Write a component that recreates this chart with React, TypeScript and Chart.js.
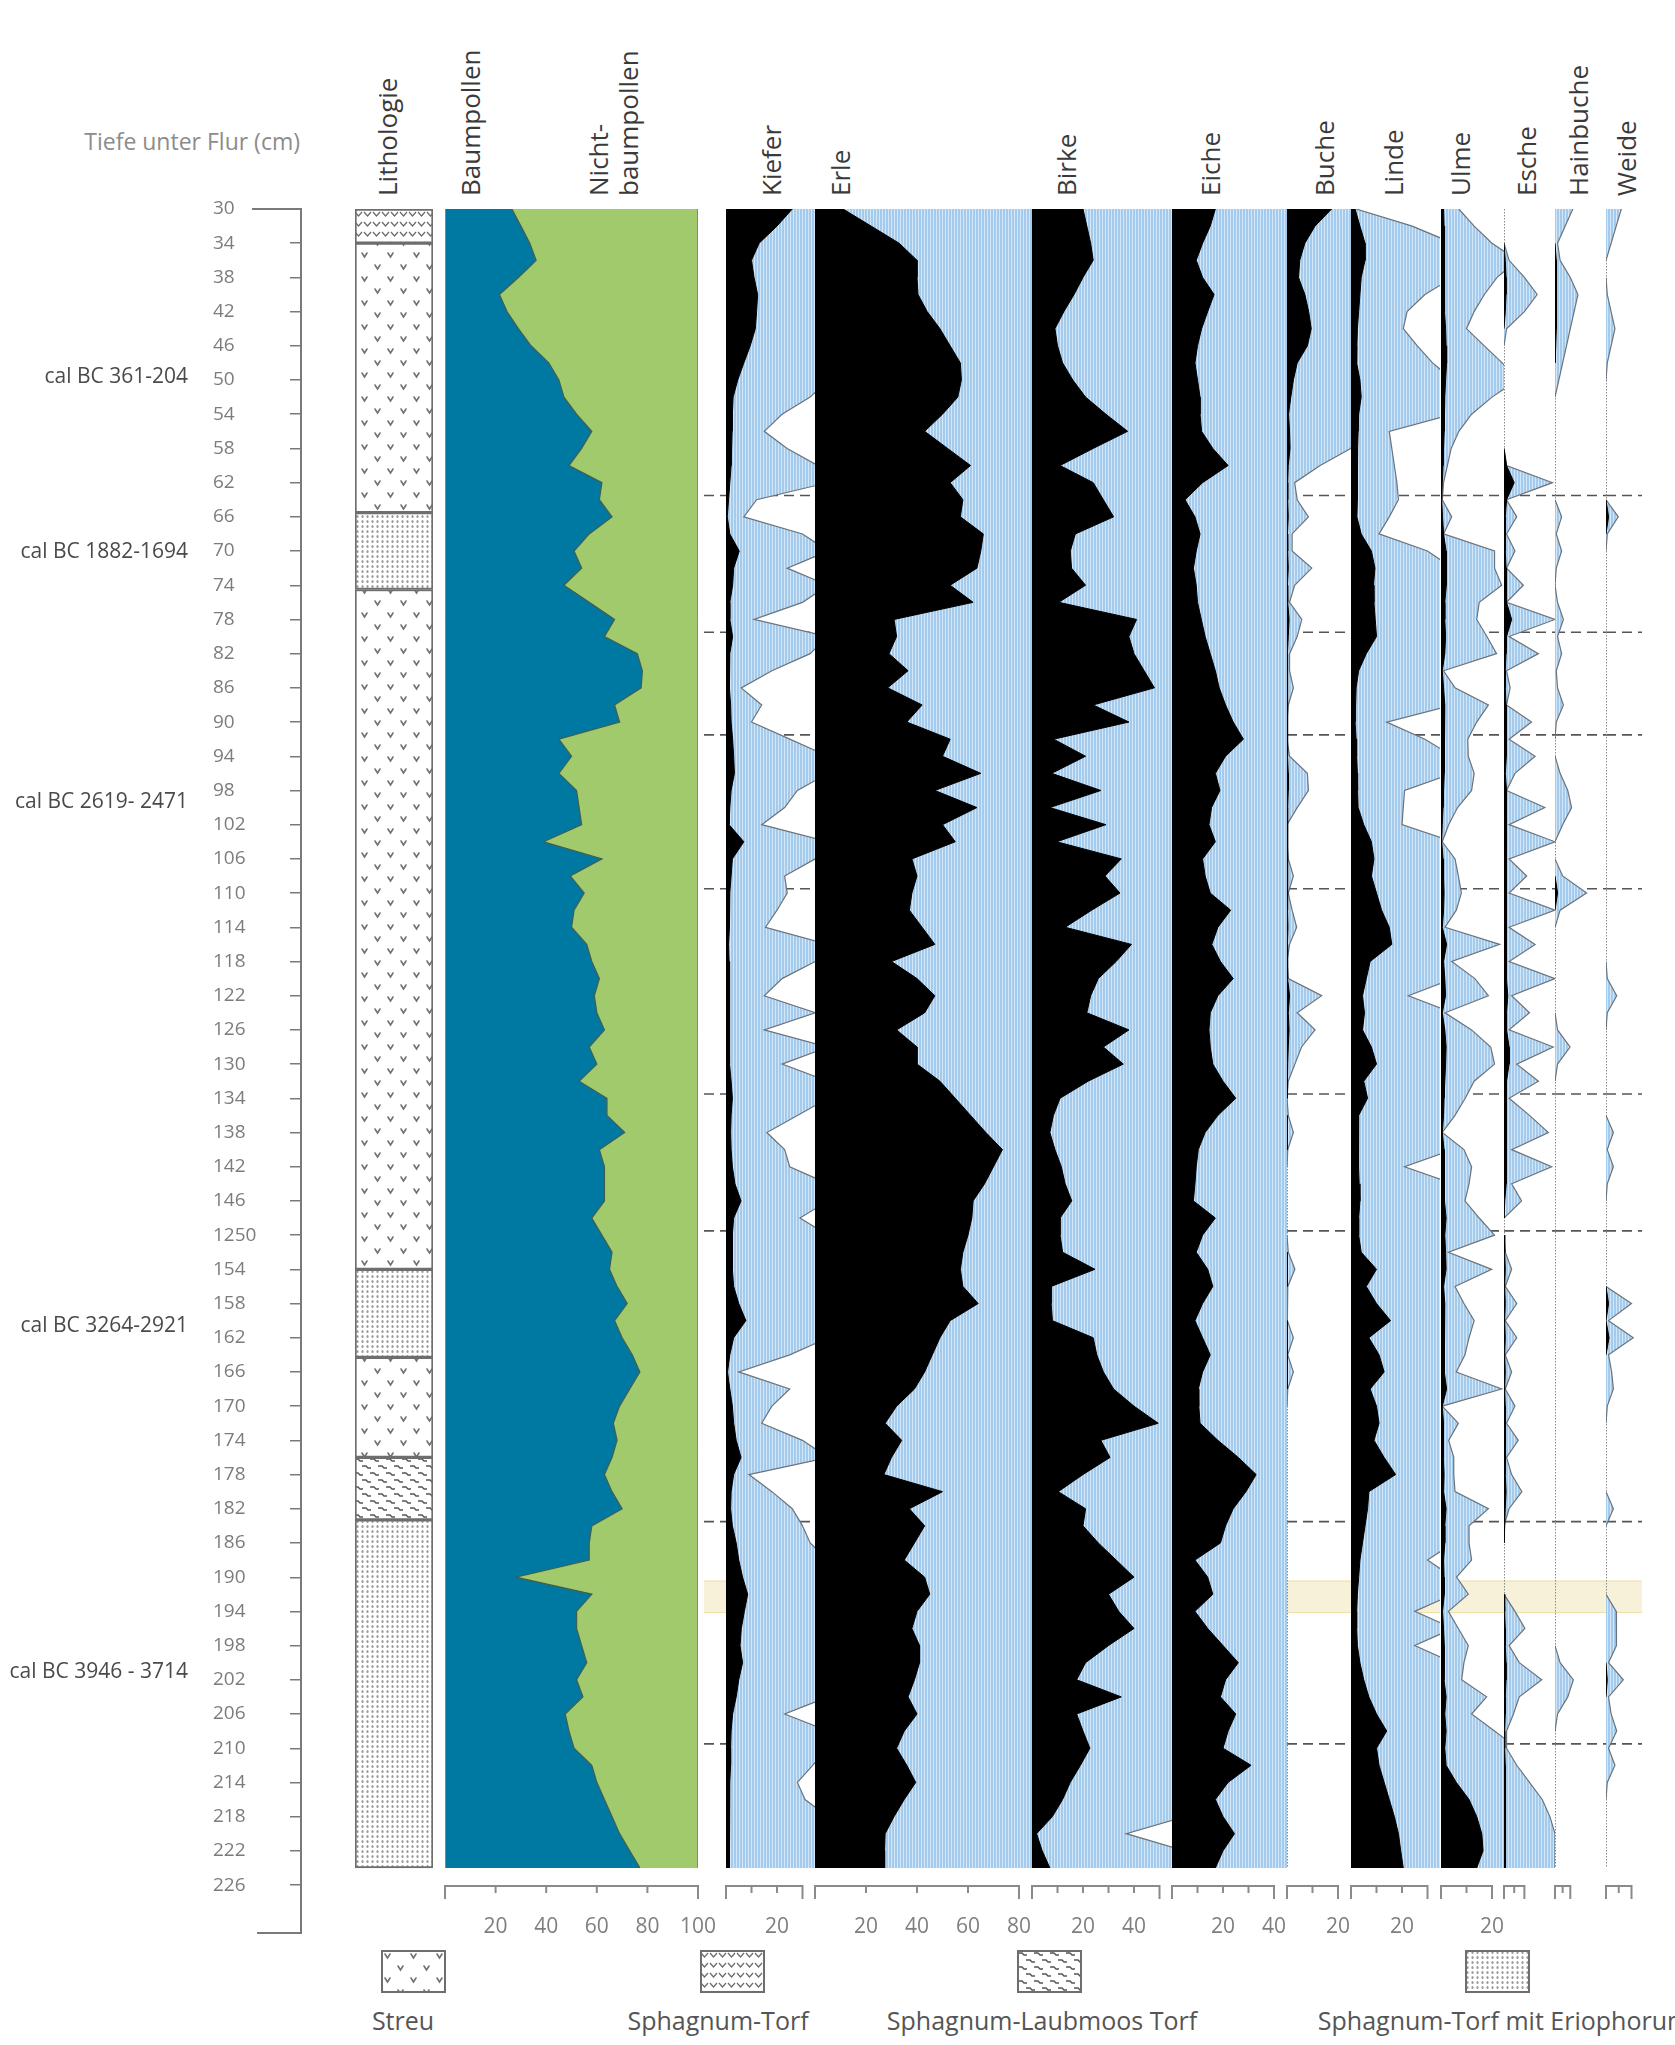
import React, { useEffect, useRef } from 'react';
import { Chart, registerables } from 'chart.js';

Chart.register(...registerables);

const FONT = '"Open Sans", "Noto Sans", "DejaVu Sans", sans-serif';

// ======================= DATA =======================
const depths = [
  30, 32, 34, 36, 38, 40, 42, 44, 46, 48,
  50, 52, 54, 56, 58, 60, 62, 64, 66, 68,
  70, 72, 74, 76, 78, 80, 82, 84, 86, 88,
  90, 92, 94, 96, 98, 100, 102, 104, 106, 108,
  110, 112, 114, 116, 118, 120, 122, 124, 126, 128,
  130, 132, 134, 136, 138, 140, 142, 144, 146, 148,
  150, 152, 154, 156, 158, 160, 162, 164, 166, 168,
  170, 172, 174, 176, 178, 180, 182, 184, 186, 188,
  190, 192, 194, 196, 198, 200, 202, 204, 206, 208,
  210, 212, 214, 216, 218, 220, 222, 224,
];

const depthTickValues = [
  30, 34, 38, 42, 46, 50, 54, 58, 62, 66, 70, 74, 78, 82, 86, 90, 94, 98, 102, 106,
  110, 114, 118, 122, 126, 130, 134, 138, 142, 146, 150, 154, 158, 162, 166, 170, 174, 178, 182, 186,
  190, 194, 198, 202, 206, 210, 214, 218, 222, 226,
];
const depthTickLabels = [
  '30', '34', '38', '42', '46', '50', '54', '58', '62', '66', '70', '74', '78', '82', '86', '90', '94', '98', '102', '106',
  '110', '114', '118', '122', '126', '130', '134', '138', '142', '146', '1250', '154', '158', '162', '166', '170', '174', '178', '182', '186',
  '190', '194', '198', '202', '206', '210', '214', '218', '222', '226',
];

const calDates = ['cal BC 361-204', 'cal BC 1882-1694', 'cal BC 2619- 2471', 'cal BC 3264-2921', 'cal BC 3946 - 3714'];
const calDateDepths = [49.7, 70.1, 99.4, 160.6, 201.1];

const zoneBoundaries = [63.5, 79.5, 91.5, 109.5, 133.5, 149.5, 183.5, 209.5];
const highlightBand = [190.4, 194.2];

const lithoTop = [30, 34, 65.5, 74.5, 154, 164.3, 176, 183.3];
const lithoBottom = [34, 65.5, 74.5, 154, 164.3, 176, 183.3, 224];
const lithoType = ['sphagnum', 'streu', 'eriophorum', 'streu', 'eriophorum', 'streu', 'laubmoos', 'eriophorum'];

const legendLabels = ['Streu', 'Sphagnum-Torf', 'Sphagnum-Laubmoos Torf', 'Sphagnum-Torf mit Eriophorum'];
const legendKinds = ['streu', 'sphagnum', 'laubmoos', 'eriophorum'];

const baumpollen = [
  26.4, 30, 33.5, 36, 29, 21.5, 24.5, 29, 34, 41,
  45, 47, 52, 58, 54, 49, 62, 61, 66, 57,
  51, 54, 47, 57, 67, 63, 76, 78, 77.5, 67,
  69, 45, 50, 45, 52, 53, 54, 39, 62, 49.5,
  55, 51, 50, 56, 58, 61, 59, 60, 63, 57,
  60, 53, 64, 64, 71, 61, 63, 63, 63, 58,
  62, 66, 65, 68, 72, 67, 70, 74, 77, 73,
  69, 66.5, 68, 66, 63, 66, 70, 58, 57, 57,
  28, 58, 52, 52, 54, 56, 52, 54.5, 47.5, 49,
  51, 58, 60, 63, 66, 69, 73, 77,
];

const kiefer = [
  26, 20, 13, 10, 11, 12.4, 12, 11.5, 9.5, 7,
  4.6, 2.8, 2.5, 2.4, 2.2, 2, 1.5, 1, 0.5, 1.5,
  5.2, 3, 2.6, 1.5, 1.5, 2.6, 1.5, 1.2, 1.5, 1.8,
  2, 2.6, 3, 3.3, 2, 1.5, 1.2, 7, 2.5, 2,
  1.5, 1.5, 1.2, 1, 1.2, 1.5, 1.2, 1.5, 1.2, 1.5,
  1.5, 2, 2.5, 2, 1.8, 2, 2.5, 3.5, 5.9, 3,
  2.5, 2.5, 2.5, 3, 5, 7.8, 3, 1.5, 0.6, 1.5,
  2.5, 3, 4, 5.9, 3, 2, 1.8, 2.5, 4, 5,
  6.5, 8.5, 7.2, 6, 5.5, 6.5, 5, 4, 2.6, 2,
  1.8, 1.8, 1.5, 1.5, 1.3, 1.3, 1.3, 1.3,
];
const kieferExag = [
  40, 40, 40, 40, 40, 40, 40, 40, 40, 40,
  40, 33, 22, 15, 24, 36, 40, 12, 7, 30,
  40, 24, 40, 30, 11, 40, 33, 18, 6, 14,
  10, 25, 40, 40, 28, 23, 14, 40, 35, 23,
  24, 20, 15.5, 40, 35, 22, 15, 35, 15, 40,
  22, 40, 40, 28, 16, 23, 25, 40, 40, 29,
  40, 40, 40, 40, 40, 40, 40, 25, 5, 25,
  18, 14, 30, 40, 9, 18, 26, 30, 33, 40,
  40, 40, 40, 40, 40, 40, 40, 40, 23, 40,
  40, 34, 28, 31, 40, 40, 40, 40,
];

const erle = [
  11, 22, 33, 40, 40, 40.4, 44, 49, 53, 57,
  57.4, 56, 50, 43, 52, 61, 53, 58, 57, 66,
  65, 63.5, 53, 62, 31, 32, 29, 36.5, 28.5, 42,
  36, 53, 50, 65, 47, 63.5, 50, 55, 38, 40,
  38, 37, 42, 47, 30, 40, 47, 43, 32, 40,
  40, 49, 55, 61, 67, 73.5, 70, 66.5, 62, 61.5,
  60, 58, 57, 58, 64, 53, 49, 46, 43, 39,
  32, 27.5, 34, 30, 27, 50, 37, 43, 39, 35,
  43, 45, 40, 38, 41, 41, 39, 36.5, 40, 35,
  32, 36, 39.5, 35, 31, 27.5, 27.3, 27.3,
];
const erleExag = [
  100, 100, 100, 100, 100, 100, 100, 100, 100, 100,
  100, 100, 100, 100, 100, 100, 100, 100, 100, 100,
  100, 100, 100, 100, 100, 100, 100, 100, 100, 100,
  100, 100, 100, 100, 100, 100, 100, 100, 100, 100,
  100, 100, 100, 100, 100, 100, 100, 100, 100, 100,
  100, 100, 100, 100, 100, 100, 100, 100, 100, 100,
  100, 100, 100, 100, 100, 100, 100, 100, 100, 100,
  100, 100, 100, 100, 100, 100, 100, 100, 100, 100,
  100, 100, 100, 100, 100, 100, 100, 100, 100, 100,
  100, 100, 100, 100, 100, 100, 100, 100,
];

const birke = [
  20, 21.5, 23, 24, 20, 16.5, 12.5, 9, 10, 12,
  16, 21, 29, 37.5, 24, 11, 24, 28, 32, 17,
  15, 15.5, 21, 10.5, 41, 38, 40, 44, 48, 24,
  38, 8.5, 21, 7.7, 27, 7, 29, 9.7, 35, 28.6,
  34.5, 23.4, 13, 39, 33, 26, 23, 21.5, 38, 28,
  35.8, 22, 11, 8.4, 7, 9, 11.5, 13, 15.6, 11,
  11, 12, 24.7, 7.5, 7.5, 8, 24, 25.4, 28, 32,
  40, 49.5, 27, 30.6, 20, 10.3, 21, 20, 26, 33,
  40, 30, 34, 40, 30, 21, 17.5, 35, 17.5, 20,
  22.7, 19, 15, 12, 8, 1.8, 4, 7,
];
const birkeExag = [
  60, 60, 60, 60, 60, 60, 60, 60, 60, 60,
  60, 60, 60, 60, 60, 60, 60, 60, 60, 60,
  60, 60, 60, 60, 60, 60, 60, 60, 60, 60,
  60, 60, 60, 60, 60, 60, 60, 60, 60, 60,
  60, 60, 60, 60, 60, 60, 60, 60, 60, 60,
  60, 60, 60, 60, 60, 60, 60, 60, 60, 60,
  60, 60, 60, 60, 60, 60, 60, 60, 60, 60,
  60, 60, 60, 60, 60, 60, 60, 60, 60, 60,
  60, 60, 60, 60, 60, 60, 60, 60, 60, 60,
  60, 60, 60, 60, 60, 37, 60, 60,
];

const eiche = [
  17, 15, 12, 9.5, 12, 16.5, 14, 11.6, 10, 9,
  10, 11, 11, 11.6, 16, 22, 12, 5.1, 9, 11,
  9.5, 8.4, 9.5, 10, 11.5, 13, 15, 17, 18.5, 21,
  24, 28, 21, 17, 18.8, 15.5, 14.5, 17, 12, 13,
  15, 23, 18, 15.6, 19, 24, 18, 15, 14.5, 15,
  16, 20, 25, 18, 13, 10.3, 9.5, 9, 8.4, 17,
  12, 9.5, 14, 16, 12, 9, 12, 15, 12, 10.3,
  10.5, 11, 18, 26, 33, 29, 24, 21, 19, 9,
  14, 16, 9, 14, 20, 26, 21, 19, 25, 22,
  20, 31, 22, 17, 20, 24.5, 20, 17,
];
const eicheExag = [
  60, 60, 60, 60, 60, 60, 60, 60, 60, 60,
  60, 60, 60, 60, 60, 60, 60, 60, 60, 60,
  60, 60, 60, 60, 60, 60, 60, 60, 60, 60,
  60, 60, 60, 60, 60, 60, 60, 60, 60, 60,
  60, 60, 60, 60, 60, 60, 60, 60, 60, 60,
  60, 60, 60, 60, 60, 60, 60, 60, 60, 60,
  60, 60, 60, 60, 60, 60, 60, 60, 60, 60,
  60, 60, 60, 60, 60, 60, 60, 60, 60, 60,
  60, 60, 60, 60, 60, 60, 60, 60, 60, 60,
  60, 60, 60, 60, 60, 60, 60, 60,
];

const buche = [
  17.5, 11, 7, 5, 4.5, 7, 8.5, 9.5, 8, 4,
  2.5, 1.5, 0.6, 1, 1.2, 0.5, 0.3, 0.3, 0.5, 0.2,
  0.3, 0.5, 0.2, 0.3, 0.8, 0.5, 0.2, 0.2, 0.3, 0.2,
  0.2, 0.2, 0.3, 0.5, 0.5, 0.3, 0.2, 0.2, 0.2, 0.3,
  0.2, 0.3, 0.4, 0.2, 0.2, 0.3, 1, 0.5, 0.8, 0.5,
  0.3, 0.2, 0, 0, 0.2, 0, 0, 0, 0, 0,
  0, 0, 0.2, 0, 0, 0, 0.2, 0, 0.2, 0,
  0, 0, 0, 0, 0, 0, 0, 0, 0, 0,
  0, 0, 0, 0, 0, 0, 0, 0, 0, 0,
  0, 0, 0, 0, 0, 0, 0, 0,
];
const bucheExag = [
  30, 30, 30, 30, 30, 30, 30, 30, 30, 30,
  30, 30, 30, 30, 25, 13, 3, 4, 8.4, 2,
  2, 9.7, 3, 1, 5.8, 4, 1, 1, 2.5, 0.5,
  0, 0, 1, 8, 8.4, 4, 0, 0, 0.5, 2.5,
  0.5, 2, 3.8, 1, 0, 0.5, 13.6, 4, 11, 5.7,
  3.1, 0.5, 0, 0.5, 2.5, 0.3, 0, 0, 0, 0,
  0, 0.5, 3.1, 0.3, 0, 0.3, 2.5, 0.3, 2.5, 0.3,
  0, 0, 0, 0, 0, 0, 0, 0, 0, 0,
  0, 0, 0, 0, 0, 0, 0, 0, 0, 0,
  0, 0, 0, 0, 0, 0, 0, 0,
];

const linde = [
  1.6, 3.5, 5.5, 5.5, 4, 3.5, 3, 2.5, 2.3, 2.2,
  3.5, 4, 3, 2.8, 2.6, 2.6, 2.5, 2.4, 2.3, 4,
  8, 9.4, 8.8, 9, 9.5, 10, 6, 3, 2, 1.8,
  1.6, 2, 2.2, 2.5, 2.6, 2.8, 5, 8, 9, 8,
  10, 12, 15, 16, 7.5, 6, 4.5, 5.3, 4.5, 8,
  10, 5, 6.5, 3, 3, 2.8, 3, 3.2, 3.5, 3,
  3, 4, 10, 6, 10, 15.5, 7, 11, 13, 7.5,
  10, 11, 9, 13, 17.5, 7, 6.5, 5.5, 4.5, 3.5,
  3, 2.5, 2.2, 2.2, 2.5, 3.5, 5, 7, 10, 14,
  10, 11, 13, 15, 17, 18.6, 19.5, 20.5,
];
const lindeExag = [
  2, 24, 40, 40, 40, 29, 22, 20.5, 26, 32,
  40, 40, 40, 15, 16, 17, 18, 18.6, 15, 11,
  30, 40, 40, 40, 40, 40, 40, 40, 40, 40,
  14, 29, 40, 40, 21, 20.5, 20, 40, 40, 40,
  40, 40, 40, 40, 40, 40, 22.5, 40, 40, 40,
  40, 40, 40, 40, 40, 40, 21, 40, 40, 40,
  40, 40, 40, 40, 40, 40, 40, 40, 40, 40,
  40, 40, 40, 40, 40, 40, 40, 40, 40, 30,
  40, 40, 25, 40, 25, 40, 40, 40, 40, 40,
  40, 40, 40, 40, 40, 40, 40, 40,
];

const ulme = [
  1, 1.2, 1.5, 1.3, 1.2, 1.5, 1.5, 1.8, 2, 2.2,
  1.8, 1.5, 1.3, 1.2, 1, 0.8, 0.5, 0.3, 0.6, 1,
  2, 2.2, 2, 1.5, 1.5, 1.8, 1.5, 0.5, 1, 1.5,
  1.3, 1.2, 1.2, 1.4, 1, 0.8, 0.5, 0.3, 0.8, 1,
  1.2, 1, 0.5, 2.2, 1, 1.5, 1.8, 0.5, 1.5, 2,
  1.8, 1.5, 1.2, 1, 0.5, 1.2, 1.5, 1.4, 1.2, 2,
  1.5, 1.8, 2, 1, 1.5, 1.5, 1.3, 1.2, 1.2, 2.2,
  0.5, 1, 0.8, 1, 1.2, 1, 2, 1.5, 1.5, 1,
  1.2, 1.3, 0.6, 1, 1.3, 1.2, 1.2, 2, 1.5, 2,
  1.5, 2, 6, 11, 14, 16, 16.5, 14,
];
const ulmeExag = [
  7, 13, 20, 30, 22, 17, 13, 10, 17, 24,
  30, 20, 12, 7, 4, 2.5, 1, 0.5, 4.2, 1,
  21, 21, 23.8, 15, 14, 18, 21.8, 1, 5.5, 18.6,
  14, 10.5, 10.7, 13, 12, 6.5, 3, 0.5, 5.5, 6.8,
  8, 6, 1.6, 23, 4.2, 13.3, 18.6, 1.6, 12, 19.5,
  21, 13, 9.5, 5.5, 0.5, 9, 12, 11, 9.4, 15,
  21, 2.9, 19.9, 5.5, 9, 13, 11, 9.4, 6, 23.8,
  0.5, 6.8, 3, 5, 5, 5.5, 18.6, 11, 11, 12,
  6.1, 10.7, 2.9, 6.8, 10.7, 9, 8.1, 17.9, 12, 21,
  30, 30, 30, 30, 30, 30, 30, 30,
];

const esche = [
  0, 0, 0, 0.5, 0.8, 0.8, 0.5, 0, 0, 0,
  0, 0, 0, 0, 0, 1, 4, 1, 0.5, 0.5,
  0.5, 0.8, 1, 1, 3, 1, 0.8, 0.5, 0.5, 0.8,
  1, 1, 0.8, 0.5, 1, 1, 0.8, 1, 1, 0.8,
  1, 1, 0.8, 1, 1, 1, 1.5, 1, 1, 2,
  2, 1, 0.8, 0.8, 1, 0.8, 1, 0.8, 0.3, 0,
  0, 0.3, 0.5, 0.3, 0.5, 0.3, 0.5, 0.3, 0.5, 0.3,
  0.5, 0.5, 0.5, 0.5, 0.5, 0.8, 0.5, 0.3, 0, 0,
  0, 0, 0.3, 0.5, 0.5, 0.8, 0.8, 0.5, 0.5, 0.3,
  0.3, 0.5, 0.5, 0.5, 0.5, 0.5, 0.5, 0.5,
];
const escheExag = [
  0, 0, 0, 2, 8, 13, 8, 1, 0, 0,
  0, 0, 0, 0, 0, 1, 19, 1, 5, 1,
  4.3, 1, 7.6, 1, 20, 2, 13.5, 1, 2.4, 1,
  10.8, 2, 12.2, 4.3, 1, 16, 2, 20, 2, 8.9,
  2, 20, 2, 12.2, 2, 20, 3, 10, 2, 19.3,
  5, 13.5, 2, 10, 17.4, 3, 18.7, 3, 6.9, 0,
  0, 0.5, 3, 0.5, 5, 0.5, 5, 0.5, 3, 0.5,
  4.3, 1, 5.6, 1, 3, 7, 2, 0, 0, 0,
  0, 0, 4.3, 8.2, 2, 6, 14.8, 6, 3.7, 1,
  1, 5, 10, 15, 18, 20, 20, 20,
];

const hainbuche = [
  0, 0, 0, 0.5, 0.5, 0.6, 0.5, 0.5, 0.3, 0,
  0, 0, 0, 0, 0, 0, 0, 0, 0, 0,
  0, 0, 0, 0, 0, 0, 0, 0, 0, 0,
  0, 0, 0, 0, 0, 0, 0, 0, 0, 0,
  1, 0, 0, 0, 0, 0, 0, 0, 0, 0,
  0, 0, 0, 0, 0, 0, 0, 0, 0, 0,
  0, 0, 0, 0, 0, 0, 0, 0, 0, 0,
  0, 0, 0, 0, 0, 0, 0, 0, 0, 0,
  0, 0, 0, 0, 0, 0, 0, 0, 0, 0,
  0, 0, 0, 0, 0, 0, 0, 0,
];
const hainbucheExag = [
  7, 4, 1, 2, 6, 9, 7.5, 6, 4.5, 3,
  1.5, 0, 0, 0, 0, 0, 0, 0, 2.6, 0.5,
  2.6, 0.5, 0, 1, 3.3, 1, 2.6, 0.5, 1, 3.3,
  0.5, 0, 0, 2, 5, 6.5, 3, 0, 0, 3,
  12.4, 2, 0, 0, 0, 0, 0, 0, 1, 5.9,
  1, 0, 0, 0, 0, 0, 0, 0, 0, 0,
  0, 0, 0, 0, 0, 0, 0, 0, 0, 0,
  0, 0, 0, 0, 0, 0, 0, 0, 0, 0,
  0, 0, 0, 0, 0, 2, 7.2, 5, 1, 0,
  0, 0, 0, 0, 0, 0, 0, 0,
];

const weide = [
  0, 0, 0, 0, 0, 0, 0, 0, 0, 0,
  0, 0, 0, 0, 0, 0, 0, 0, 1, 0,
  0, 0, 0, 0, 0, 0, 0, 0, 0, 0,
  0, 0, 0, 0, 0, 0, 0, 0, 0, 0,
  0, 0, 0, 0, 0, 0, 0, 0, 0, 0,
  0, 0, 0, 0, 0, 0, 0, 0, 0, 0,
  0, 0, 0, 0, 1, 0, 1.2, 0, 0, 0,
  0, 0, 0, 0, 0, 0, 0, 0, 0, 0,
  0, 0, 0, 0, 0, 0, 0.5, 0, 0, 0,
  0, 0, 0, 0, 0, 0, 0, 0,
];
const weideExag = [
  6, 4, 2, 0, 0, 0.5, 2, 3.5, 2, 0.5,
  0, 0, 0, 0, 0, 0, 0, 0, 4.8, 0.5,
  0, 0, 0, 0, 0, 0, 0, 0, 0, 0,
  0, 0, 0, 0, 0, 0, 0, 0, 0, 0,
  0, 0, 0, 0, 0, 0.5, 4.2, 0.5, 0, 0,
  0, 0, 0, 0, 2.9, 0.5, 2.9, 0.5, 0, 0,
  0, 0, 0, 0, 10, 1, 10.7, 1, 2.2, 2.9,
  0.5, 0, 0, 0, 0, 0, 2.9, 0, 0, 0,
  0, 0, 4, 4.2, 4, 1, 6.8, 1, 2, 4.2,
  1, 3.5, 0.5, 0, 0, 0, 0, 0,
];

const bpTicks = [0, 20, 40, 60, 80, 100];
const bpTickLabels = ['', '20', '40', '60', '80', '100'];
const kieferTicks = [0, 10, 20, 30];
const kieferTickLabels = ['', '', '20', ''];
const erleTicks = [0, 20, 40, 60, 80];
const erleTickLabels = ['', '20', '40', '60', '80'];
const birkeTicks = [0, 10, 20, 30, 40, 50];
const birkeTickLabels = ['', '', '20', '', '40', ''];
const eicheTicks = [0, 10, 20, 30, 40];
const eicheTickLabels = ['', '', '20', '', '40'];
const bucheTicks = [0, 10, 20];
const bucheTickLabels = ['', '', '20'];
const lindeTicks = [0, 10, 20, 30];
const lindeTickLabels = ['', '', '20', ''];
const ulmeTicks = [0, 10, 20];
const ulmeTickLabels = ['', '', '20'];
const escheTicks = [0, 4, 8];
const escheTickLabels = ['', '', ''];
const hainbucheTicks = [0, 3, 6];
const hainbucheTickLabels = ['', '', ''];
const weideTicks = [0, 5, 10];
const weideTickLabels = ['', '', ''];

// ======================= LAYOUT =======================
const DEPTH_MIN = 30;
const DEPTH_MAX = 226;
const AREA_TOP = 209;
const AREA_BOTTOM = 1885;
const PAD_TOP = 20;
const AXIS_H = 60;
const PAD_X = 64;
const PX_PER_PCT = 2.55;

const pollenPanels = [
  { name: 'Kiefer', values: kiefer, exag: kieferExag, ticks: kieferTicks, tickLabels: kieferTickLabels, left: 726, width: 89, gapLeft: 22 },
  { name: 'Erle', values: erle, exag: erleExag, ticks: erleTicks, tickLabels: erleTickLabels, left: 815, width: 217, gapLeft: 0 },
  { name: 'Birke', values: birke, exag: birkeExag, ticks: birkeTicks, tickLabels: birkeTickLabels, left: 1032, width: 140, gapLeft: 0 },
  { name: 'Eiche', values: eiche, exag: eicheExag, ticks: eicheTicks, tickLabels: eicheTickLabels, left: 1172, width: 115, gapLeft: 0 },
  { name: 'Buche', values: buche, exag: bucheExag, ticks: bucheTicks, tickLabels: bucheTickLabels, left: 1287, width: 64, gapLeft: 0 },
  { name: 'Linde', values: linde, exag: lindeExag, ticks: lindeTicks, tickLabels: lindeTickLabels, left: 1351, width: 89, gapLeft: 0 },
  { name: 'Ulme', values: ulme, exag: ulmeExag, ticks: ulmeTicks, tickLabels: ulmeTickLabels, left: 1441, width: 63, gapLeft: 0 },
  { name: 'Esche', values: esche, exag: escheExag, ticks: escheTicks, tickLabels: escheTickLabels, left: 1504, width: 51, gapLeft: 0 },
  { name: 'Hainbuche', values: hainbuche, exag: hainbucheExag, ticks: hainbucheTicks, tickLabels: hainbucheTickLabels, left: 1555, width: 51, gapLeft: 0 },
  { name: 'Weide', values: weide, exag: weideExag, ticks: weideTicks, tickLabels: weideTickLabels, left: 1606, width: 36, gapLeft: 0 },
];

const headerLabels = [
  { lines: ['Lithologie'], cx: 387 },
  { lines: ['Baumpollen'], cx: 470 },
  { lines: ['Nicht-', 'baumpollen'], cx: 613 },
  { lines: ['Kiefer'], cx: 771 },
  { lines: ['Erle'], cx: 840 },
  { lines: ['Birke'], cx: 1066 },
  { lines: ['Eiche'], cx: 1210 },
  { lines: ['Buche'], cx: 1324 },
  { lines: ['Linde'], cx: 1393 },
  { lines: ['Ulme'], cx: 1460 },
  { lines: ['Esche'], cx: 1526 },
  { lines: ['Hainbuche'], cx: 1578 },
  { lines: ['Weide'], cx: 1626 },
];
const legendBoxLeft = [381, 700, 1017, 1465];
const legendLabelCenter = [403, 718, 1042, 1504];

// ======================= PATTERNS =======================
function drawV(g: CanvasRenderingContext2D, x: number, y: number, w: number, h: number) {
  g.beginPath();
  g.moveTo(x - w / 2, y - h / 2);
  g.lineTo(x, y + h / 2);
  g.lineTo(x + w / 2, y - h / 2);
  g.stroke();
}

function makeTile(kind: string): HTMLCanvasElement {
  const c = document.createElement('canvas');
  const g = c.getContext('2d') as CanvasRenderingContext2D;
  if (kind === 'hatch') {
    c.width = 3; c.height = 6;
    g.fillStyle = '#a5cbec'; g.fillRect(0, 0, 3, 6);
    g.fillStyle = '#d2e6f7'; g.fillRect(2, 0, 1, 6);
  } else if (kind === 'streu') {
    c.width = 26; c.height = 24;
    g.fillStyle = '#ffffff'; g.fillRect(0, 0, 26, 24);
    g.strokeStyle = '#707070'; g.lineWidth = 1.6; g.lineCap = 'round';
    drawV(g, 6.5, 6, 5, 4);
    drawV(g, 19.5, 18, 5, 4);
  } else if (kind === 'sphagnum') {
    c.width = 9; c.height = 10;
    g.fillStyle = '#ffffff'; g.fillRect(0, 0, 9, 10);
    g.strokeStyle = '#6a6a6a'; g.lineWidth = 1.2;
    drawV(g, 4.5, 5, 7, 4);
  } else if (kind === 'eriophorum') {
    c.width = 5; c.height = 5;
    g.fillStyle = '#ffffff'; g.fillRect(0, 0, 5, 5);
    g.fillStyle = '#9a9a9a';
    g.beginPath(); g.ellipse(2.5, 2.5, 1.1, 1.6, 0, 0, Math.PI * 2); g.fill();
  } else if (kind === 'laubmoos') {
    c.width = 16; c.height = 14;
    g.fillStyle = '#ffffff'; g.fillRect(0, 0, 16, 14);
    g.strokeStyle = '#555555'; g.lineWidth = 1.4;
    g.beginPath();
    g.moveTo(1, 3); g.lineTo(5, 3); g.lineTo(7, 5); g.lineTo(10, 5);
    g.moveTo(9, 10); g.lineTo(13, 10); g.lineTo(15, 12); g.lineTo(16, 12);
    g.moveTo(0, 12); g.lineTo(2, 12);
    g.stroke();
  }
  return c;
}
const patternCache: Record<string, CanvasPattern> = {};
function getPattern(kind: string): CanvasPattern {
  if (!patternCache[kind]) {
    const tile = makeTile(kind);
    const g = tile.getContext('2d') as CanvasRenderingContext2D;
    patternCache[kind] = g.createPattern(tile, 'repeat') as CanvasPattern;
  }
  return patternCache[kind];
}

// ======================= PLUGINS =======================
function zonesPlugin(gapLeft: number, baseline: boolean) {
  return {
    id: 'zones',
    beforeDatasetsDraw(chart: any) {
      const { ctx, chartArea: a, scales } = chart;
      const y = scales.y;
      const x0 = a.left - gapLeft;
      const x1 = a.right;
      ctx.save();
      const b0 = y.getPixelForValue(highlightBand[0]);
      const b1 = y.getPixelForValue(highlightBand[1]);
      ctx.fillStyle = '#f7f1d9';
      ctx.fillRect(x0, b0, x1 - x0, b1 - b0);
      ctx.strokeStyle = '#ebe0a6';
      ctx.lineWidth = 1;
      ctx.beginPath();
      ctx.moveTo(x0, b0 + 0.5); ctx.lineTo(x1, b0 + 0.5);
      ctx.moveTo(x0, b1 - 0.5); ctx.lineTo(x1, b1 - 0.5);
      ctx.stroke();
      ctx.setLineDash([10, 6]);
      ctx.strokeStyle = '#555555';
      ctx.lineWidth = 1.6;
      zoneBoundaries.forEach((d) => {
        const py = y.getPixelForValue(d);
        ctx.beginPath(); ctx.moveTo(x0, py); ctx.lineTo(x1, py); ctx.stroke();
      });
      if (baseline) {
        const px = scales.x.getPixelForValue(0) + 0.5;
        ctx.setLineDash([1.5, 1.5]);
        ctx.strokeStyle = '#8a8a8a';
        ctx.lineWidth = 1;
        ctx.beginPath();
        ctx.moveTo(px, y.getPixelForValue(depths[0]));
        ctx.lineTo(px, y.getPixelForValue(depths[depths.length - 1]));
        ctx.stroke();
      }
      ctx.restore();
    },
  };
}

function bracketPlugin(ticks: number[]) {
  return {
    id: 'bracket',
    afterDraw(chart: any) {
      const { ctx, chartArea: a, scales } = chart;
      const xs = scales.x;
      const y0 = a.bottom + 1;
      ctx.save();
      ctx.strokeStyle = '#8a8a8a';
      ctx.lineWidth = 2;
      ctx.beginPath();
      ctx.moveTo(xs.getPixelForValue(ticks[0]) - 1, y0);
      ctx.lineTo(xs.getPixelForValue(ticks[ticks.length - 1]) + 1, y0);
      ticks.forEach((t, i) => {
        const px = xs.getPixelForValue(t);
        const len = i === 0 || i === ticks.length - 1 ? 13 : 7;
        ctx.moveTo(px, y0);
        ctx.lineTo(px, y0 + len);
      });
      ctx.stroke();
      ctx.restore();
    },
  };
}

function framePlugin() {
  return {
    id: 'frame',
    afterDatasetsDraw(chart: any) {
      const { ctx, scales } = chart;
      const y = scales.y;
      const t = y.getPixelForValue(depths[0]);
      const b = y.getPixelForValue(depths[depths.length - 1]);
      ctx.save();
      ctx.strokeStyle = '#7f8a80';
      ctx.lineWidth = 1;
      [0, 100].forEach((v) => {
        const px = scales.x.getPixelForValue(v) + (v === 0 ? 0.5 : -0.5);
        ctx.beginPath(); ctx.moveTo(px, t); ctx.lineTo(px, b); ctx.stroke();
      });
      ctx.restore();
    },
  };
}

const depthDecorPlugin = {
  id: 'depthDecor',
  afterDraw(chart: any) {
    const { ctx, chartArea: a, scales } = chart;
    const y = scales.y;
    ctx.save();
    ctx.strokeStyle = '#7a7a7a';
    ctx.lineWidth = 2;
    const yt = y.getPixelForValue(DEPTH_MIN);
    const yb = a.bottom;
    ctx.beginPath();
    ctx.moveTo(a.left - 49, yt); ctx.lineTo(a.left + 1, yt);
    ctx.moveTo(a.left - 44, yb); ctx.lineTo(a.left + 1, yb);
    ctx.stroke();
    ctx.fillStyle = '#4a4a4a';
    ctx.font = `21px ${FONT}`;
    ctx.textAlign = 'right';
    ctx.textBaseline = 'middle';
    calDates.forEach((txt, i) => {
      ctx.fillText(txt, 188, y.getPixelForValue(calDateDepths[i]));
    });
    ctx.restore();
  },
};

// ======================= CONFIG BUILDERS =======================
function baseOptions(max: number, ticks: number[], labels: string[]) {
  return {
    responsive: false,
    animation: false,
    devicePixelRatio: 1,
    events: [],
    indexAxis: 'y',
    layout: { padding: { left: PAD_X, right: PAD_X, top: PAD_TOP, bottom: 0 } },
    plugins: { legend: { display: false }, tooltip: { enabled: false } },
    elements: { point: { radius: 0, hoverRadius: 0 }, line: { tension: 0 } },
    scales: {
      y: { type: 'linear', min: DEPTH_MIN, max: DEPTH_MAX, reverse: true, display: false, bounds: 'data' },
      x: {
        type: 'linear', min: 0, max, bounds: 'data', position: 'bottom',
        grid: { display: false }, border: { display: false },
        ticks: {
          autoSkip: false, maxRotation: 0, minRotation: 0, padding: 21,
          color: '#7f7f7f', font: { family: FONT, size: 21 },
          callback: (_v: any, i: number) => labels[i] ?? '',
        },
        afterBuildTicks: (s: any) => { s.ticks = ticks.map((v) => ({ value: v })); },
        afterFit: (s: any) => { s.height = AXIS_H; },
      },
    },
  };
}

function hideZero(color: string) {
  return (ctx: any) => (ctx.p0.parsed.x <= 0 && ctx.p1.parsed.x <= 0 ? 'rgba(0,0,0,0)' : color);
}

function buildPollenConfig(p: any) {
  const max = p.width / PX_PER_PCT;
  const outline = '#6b737c';
  return {
    type: 'line',
    data: {
      datasets: [
        {
          label: p.name + ' (überhöht)',
          data: depths.map((d, i) => ({ x: p.exag[i], y: d })),
          fill: 'origin', backgroundColor: getPattern('hatch'),
          borderColor: outline, borderWidth: 1.2, order: 1,
          segment: { borderColor: hideZero(outline) },
        },
        {
          label: p.name,
          data: depths.map((d, i) => ({ x: p.values[i], y: d })),
          fill: 'origin', backgroundColor: '#000000',
          borderColor: '#000000', borderWidth: 1, order: 0,
          segment: { borderColor: hideZero('#000000') },
        },
      ],
    },
    options: baseOptions(max, p.ticks, p.tickLabels),
    plugins: [zonesPlugin(p.gapLeft, true), bracketPlugin(p.ticks)],
  };
}

function buildBPConfig() {
  const pts = depths.map((d, i) => ({ x: baumpollen[i], y: d }));
  return {
    type: 'line',
    data: {
      datasets: [
        { label: 'Baumpollen', data: pts, fill: 'origin', backgroundColor: '#0079a2', borderColor: '#3f5f4e', borderWidth: 1.3, order: 0 },
        { label: 'Nichtbaumpollen', data: pts, fill: { value: 100 }, backgroundColor: '#a0ca6c', borderColor: 'rgba(0,0,0,0)', borderWidth: 0, order: 1 },
      ],
    },
    options: baseOptions(100, bpTicks, bpTickLabels),
    plugins: [framePlugin(), bracketPlugin(bpTicks)],
  };
}

function buildLithoConfig() {
  return {
    type: 'bar',
    data: {
      labels: ['Lithologie'],
      datasets: lithoTop.map((t, i) => ({
        label: lithoType[i],
        data: [[t, lithoBottom[i]]],
        backgroundColor: getPattern(lithoType[i]),
        borderColor: '#6e6e6e', borderWidth: 2, borderSkipped: false,
        barPercentage: 1, categoryPercentage: 1, grouped: false,
      })),
    },
    options: {
      responsive: false, animation: false, devicePixelRatio: 1, events: [],
      layout: { padding: { left: 10, right: 10, top: PAD_TOP, bottom: 20 } },
      plugins: { legend: { display: false }, tooltip: { enabled: false } },
      scales: {
        x: { display: false },
        y: { type: 'linear', min: DEPTH_MIN, max: DEPTH_MAX, reverse: true, display: false, bounds: 'data' },
      },
    },
  };
}

function buildDepthConfig() {
  return {
    type: 'line',
    data: { datasets: [] },
    options: {
      responsive: false, animation: false, devicePixelRatio: 1, events: [],
      layout: { padding: { left: 213, right: 0, top: 29, bottom: 27 } },
      plugins: { legend: { display: false }, tooltip: { enabled: false } },
      scales: {
        x: { display: false },
        y: {
          type: 'linear', min: DEPTH_MIN, max: 231.6, reverse: true, position: 'left', bounds: 'data',
          grid: { drawOnChartArea: false, drawTicks: true, tickLength: 11, color: '#7a7a7a', lineWidth: 1.5 },
          border: { display: true, color: '#7a7a7a', width: 2 },
          ticks: {
            autoSkip: false, crossAlign: 'far', color: '#7c7c7c', font: { family: FONT, size: 19 },
            callback: (_v: any, i: number) => depthTickLabels[i] ?? '',
          },
          afterBuildTicks: (s: any) => { s.ticks = depthTickValues.map((v) => ({ value: v })); },
          afterFit: (s: any) => { s.width = 88; },
        },
      },
    },
    plugins: [depthDecorPlugin],
  };
}

// ======================= COMPONENTS =======================
function ChartCanvas({ left, top, width, height, build }: { left: number; top: number; width: number; height: number; build: () => any }) {
  const ref = useRef<HTMLCanvasElement>(null);
  useEffect(() => {
    const chart = new Chart(ref.current as HTMLCanvasElement, build());
    return () => chart.destroy();
  }, []);
  return (
    <canvas
      ref={ref}
      width={width}
      height={height}
      style={{ position: 'absolute', left, top, width, height }}
    />
  );
}

function Swatch({ kind, left, top }: { kind: string; left: number; top: number }) {
  const ref = useRef<HTMLCanvasElement>(null);
  useEffect(() => {
    const c = ref.current as HTMLCanvasElement;
    const g = c.getContext('2d') as CanvasRenderingContext2D;
    g.clearRect(0, 0, c.width, c.height);
    g.fillStyle = getPattern(kind);
    g.fillRect(1, 1, c.width - 2, c.height - 2);
    g.strokeStyle = '#6e6e6e';
    g.lineWidth = 2;
    g.strokeRect(1, 1, c.width - 2, c.height - 2);
  }, []);
  return <canvas ref={ref} width={65} height={43} style={{ position: 'absolute', left, top, width: 65, height: 43 }} />;
}

export default function App() {
  const canvasH = PAD_TOP + (AREA_BOTTOM - AREA_TOP) + AXIS_H;
  return (
    <div
      style={{
        position: 'absolute', left: 0, top: 0, width: 1675, height: 2045,
        overflow: 'hidden', background: '#ffffff', fontFamily: FONT,
      }}
    >
      <div
        style={{
          position: 'absolute', right: 1675 - 300, top: 125, fontSize: 23, lineHeight: '32px',
          color: '#8c8c8c', whiteSpace: 'nowrap', textAlign: 'right',
        }}
      >
        Tiefe unter Flur (cm)
      </div>

      {headerLabels.map((h) => {
        const lh = 30;
        const boxH = lh * h.lines.length;
        return (
          <div
            key={h.lines.join('')}
            style={{
              position: 'absolute', left: h.cx - boxH / 2, top: 196,
              transformOrigin: '0 0', transform: 'rotate(-90deg)',
              fontSize: 26, lineHeight: `${lh}px`, color: '#3a3a3a', whiteSpace: 'nowrap',
            }}
          >
            {h.lines.map((l) => (
              <div key={l}>{l}</div>
            ))}
          </div>
        );
      })}

      <ChartCanvas left={0} top={180} width={310} height={1780} build={buildDepthConfig} />
      <ChartCanvas left={345} top={AREA_TOP - PAD_TOP} width={98} height={AREA_BOTTOM - AREA_TOP + PAD_TOP + 20} build={buildLithoConfig} />
      <ChartCanvas left={445 - PAD_X} top={AREA_TOP - PAD_TOP} width={253 + 2 * PAD_X} height={canvasH} build={buildBPConfig} />
      {pollenPanels.map((p) => (
        <ChartCanvas
          key={p.name}
          left={p.left - PAD_X}
          top={AREA_TOP - PAD_TOP}
          width={p.width + 2 * PAD_X}
          height={canvasH}
          build={() => buildPollenConfig(p)}
        />
      ))}

      {legendKinds.map((k, i) => (
        <Swatch key={k} kind={k} left={legendBoxLeft[i]} top={1950} />
      ))}
      {legendLabels.map((l, i) => (
        <div
          key={l}
          style={{
            position: 'absolute', left: legendLabelCenter[i] - 250, width: 500, top: 2003,
            textAlign: 'center', fontSize: 25, lineHeight: '34px', color: '#555555', whiteSpace: 'nowrap',
          }}
        >
          {l}
        </div>
      ))}
    </div>
  );
}
